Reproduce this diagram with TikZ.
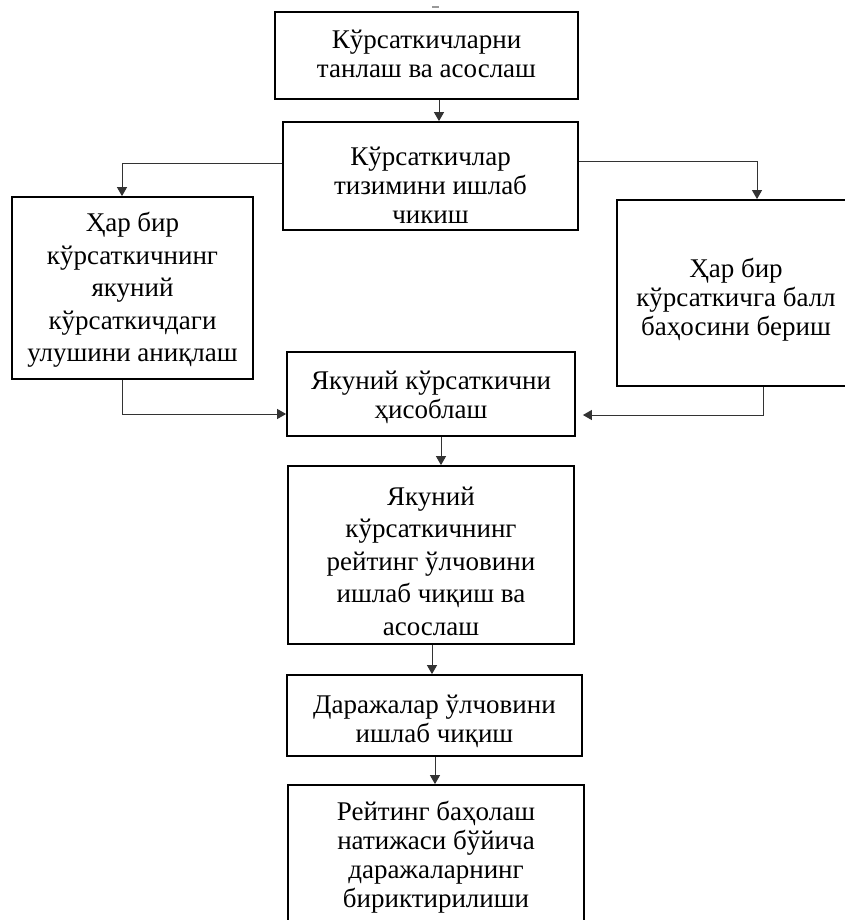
\documentclass[tikz,border=0pt]{standalone}
\usepackage{fontspec}
\setmainfont{Liberation Serif}
\usetikzlibrary{arrows.meta}
\begin{document}
\begin{tikzpicture}[x=1pt,y=-1pt,
  boxst/.style={draw=black, line width=1.8pt, rectangle, inner sep=0pt},
  txt/.style={align=center, inner sep=0pt, font=\fontsize{27}{29}\selectfont},
  txtw/.style={align=center, inner sep=0pt, font=\fontsize{27}{32.5}\selectfont},
  conn/.style={draw=black!80, line width=1pt, -{Triangle[length=9pt,width=10pt]}}]
\useasboundingbox (0,0) rectangle (845,920);
\fill[white] (0,0) rectangle (845,920);
% boxes
\node[boxst, minimum width=303pt, minimum height=87pt] (b1) at (426.5,55.5) {};
\node[boxst, minimum width=295pt, minimum height=108pt] (b2) at (430.5,176) {};
\node[boxst, minimum width=241pt, minimum height=182pt] (L) at (132.5,288) {};
\node[boxst, minimum width=231pt, minimum height=186pt] (R) at (732.5,293) {};
\node[boxst, minimum width=288pt, minimum height=84pt] (Ya) at (431,394) {};
\node[boxst, minimum width=286pt, minimum height=178pt] (YK) at (431,555) {};
\node[boxst, minimum width=295pt, minimum height=81pt] (D) at (434.5,715.5) {};
\node[boxst, minimum width=296pt, minimum height=150pt] (Rt) at (436,860) {};
% texts
\node[txt] (t1) at (426.5,54) {Кўрсаткичларни\\танлаш ва асослаш};
\node[txt] (t2) at (430.5,185.5) {Кўрсаткичлар\\тизимини ишлаб\\чикиш};
\node[txtw] (tL) at (132.5,290) {Ҳар бир\\кўрсаткичнинг\\якуний\\кўрсаткичдаги\\улушини аниқлаш};
\node[txt] (tR) at (736,300) {Ҳар бир\\кўрсаткичга балл\\баҳосини бериш};
\node[txt] (tYa) at (431,397) {Якуний кўрсаткични\\ҳисоблаш};
\node[txtw] (tYK) at (431,561) {Якуний\\кўрсаткичнинг\\рейтинг ўлчовини\\ишлаб чиқиш ва\\асослаш};
\node[txt] (tD) at (434.5,721) {Даражалар ўлчовини\\ишлаб чиқиш};
\node[txt] (tRt) at (436,857) {Рейтинг баҳолаш\\натижаси бўйича\\даражаларнинг\\бириктирилиши};
% connectors
\draw[conn] ([xshift=12.5pt]b1.south) -- ([xshift=12.5pt]b1.south |- b2.north);
\draw[conn] ([yshift=12pt]b2.west) -| ([xshift=-10.5pt]L.north);
\draw[conn] ([yshift=14pt]b2.east) -| ([xshift=24.5pt]R.north);
\draw[conn] ([xshift=-10.5pt]L.south) |- ([yshift=-20pt]Ya.west);
\draw[conn] ([xshift=30.5pt]R.south) |- ([xshift=7pt,yshift=-21pt]Ya.east);
\draw[conn] ([xshift=10pt]Ya.south) -- ([xshift=10pt]Ya.south |- YK.north);
\draw[conn] ([xshift=1pt]YK.south) -- ([xshift=1pt]YK.south |- D.north);
\draw[conn] ([xshift=0.5pt]D.south) -- ([xshift=0.5pt]D.south |- Rt.north);
% small mark above the top box
\draw[black!40, line width=1.2pt] (432,7) -- (439,7);
\end{tikzpicture}
\end{document}
